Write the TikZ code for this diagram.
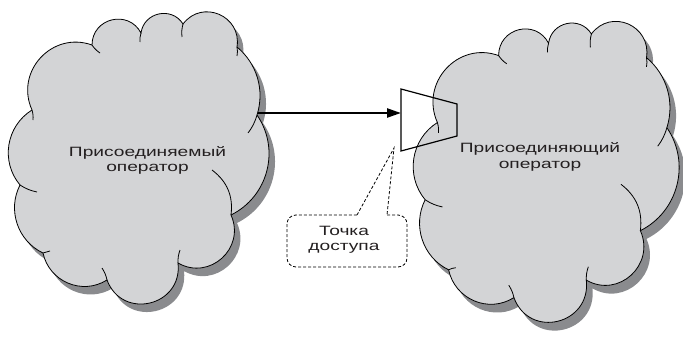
\documentclass[tikz,border=0pt]{standalone}
\usepackage{fontspec}
\newfontfamily\labelfont[FakeStretch=1.42]{Liberation Sans}
\usetikzlibrary{arrows.meta}
\definecolor{cloudgray}{RGB}{211,212,214}
\definecolor{shadowgray}{RGB}{138,139,142}
\definecolor{inkgray}{RGB}{35,31,32}
% outline of one cloud, in pixel units of the left one
\newcommand{\cloudshape}[1]{%
  \path[#1] (32,-110)
    to[bend left=67,looseness=1.22] (92,-45)
    to[bend left=76,looseness=1.37] (141,-33)
    to[bend left=70,looseness=1.26] (183,-24)
    to[bend left=76,looseness=1.38] (237,-47)
    to[bend left=34,looseness=0.94] (257,-115)
    to[bend left=49,looseness=1.03] (231,-215)
    to[bend left=72,looseness=1.30] (178,-263)
    to[bend left=83,looseness=1.52] (107,-280)
    to[bend left=55,looseness=1.08] (43,-253)
    to[bend left=46,looseness=1.00] (20,-185)
    to[bend left=49,looseness=1.03] (32,-110) -- cycle;}
% the short inner strokes of the puffs
\newcommand{\cloudfolds}[1]{%
  \draw[#1] (32,-110) to[bend left=10] (33,-120)
    (92,-45) to[bend right=10] (100,-53)
    (141,-33) to[bend right=10] (140,-42)
    (183,-24) to[bend right=10] (182,-37)
    (237,-47) to[bend left=10] (237,-56)
    (257,-115) to[bend left=10] (248,-133)
    (231,-215) to[bend right=30] (212,-170)
    (178,-263) to[bend left=10] (180,-250)
    (107,-280) to[bend right=10] (102,-268)
    (43,-253) to[bend left=10] (50,-251)
    (20,-185) to[bend right=10] (37,-192);}

\begin{document}
\begin{tikzpicture}[x=1pt,y=1pt]
  \tikzstyle{cloudline}=[draw=black, line width=0.8pt]
  \tikzstyle{opname}=[font=\labelfont\fontsize{13.5}{15.4}\selectfont,
       text=inkgray, align=center, inner sep=0pt]
  \tikzstyle{callout}=[draw=black, line width=0.8pt, dash pattern=on 3pt off 2pt]
  \useasboundingbox (0,0) rectangle (683,-337);

  % joined operator
  \cloudshape{fill=shadowgray, shift={(6,-8)}}
  \cloudshape{fill=cloudgray, cloudline}
  \cloudfolds{cloudline}

  % joining operator
  \begin{scope}[shift={(545,-173.5)}, xscale=1.02, yscale=1.03, shift={(-137.5,159.5)}]
    \cloudshape{fill=shadowgray, shift={(6,-8)}}
    \cloudshape{fill=cloudgray, cloudline}
    \cloudfolds{cloudline}
  \end{scope}

  \node[opname] (joined) at (147.5,-160.5) {Присоединяемый\\оператор};
  \node[opname] (joining) at (540,-157) {Присоединяющий\\оператор};

  % access point
  \coordinate (ap1) at (401,-89);
  \coordinate (ap2) at (457,-104);
  \coordinate (ap3) at (457,-136);
  \coordinate (ap4) at (401,-151);
  \draw[line width=1.2pt, line join=miter] (ap1) -- (ap2) -- (ap3) -- (ap4) -- cycle;

  \coordinate (cloudexit) at (258,-113);
  \coordinate (apentry) at (401,-113);
  \draw[line width=2.4pt, -{Triangle[length=14pt,width=9pt]}] (cloudexit) -- (apentry);

  % label of the access point
  \coordinate (tip) at (394,-148);
  \coordinate (gapl) at (357,-215);
  \coordinate (gapr) at (387,-215);
  \draw[callout] (gapl) -- (tip) -- (gapr);
  \draw[callout, rounded corners=9pt] (gapr) -- (407,-215) -- (407,-267)
       -- (287,-267) -- (287,-215) -- (gapl);
  \node[opname] (access) at (344,-239.7) {Точка\\доступа};
\end{tikzpicture}
\end{document}
